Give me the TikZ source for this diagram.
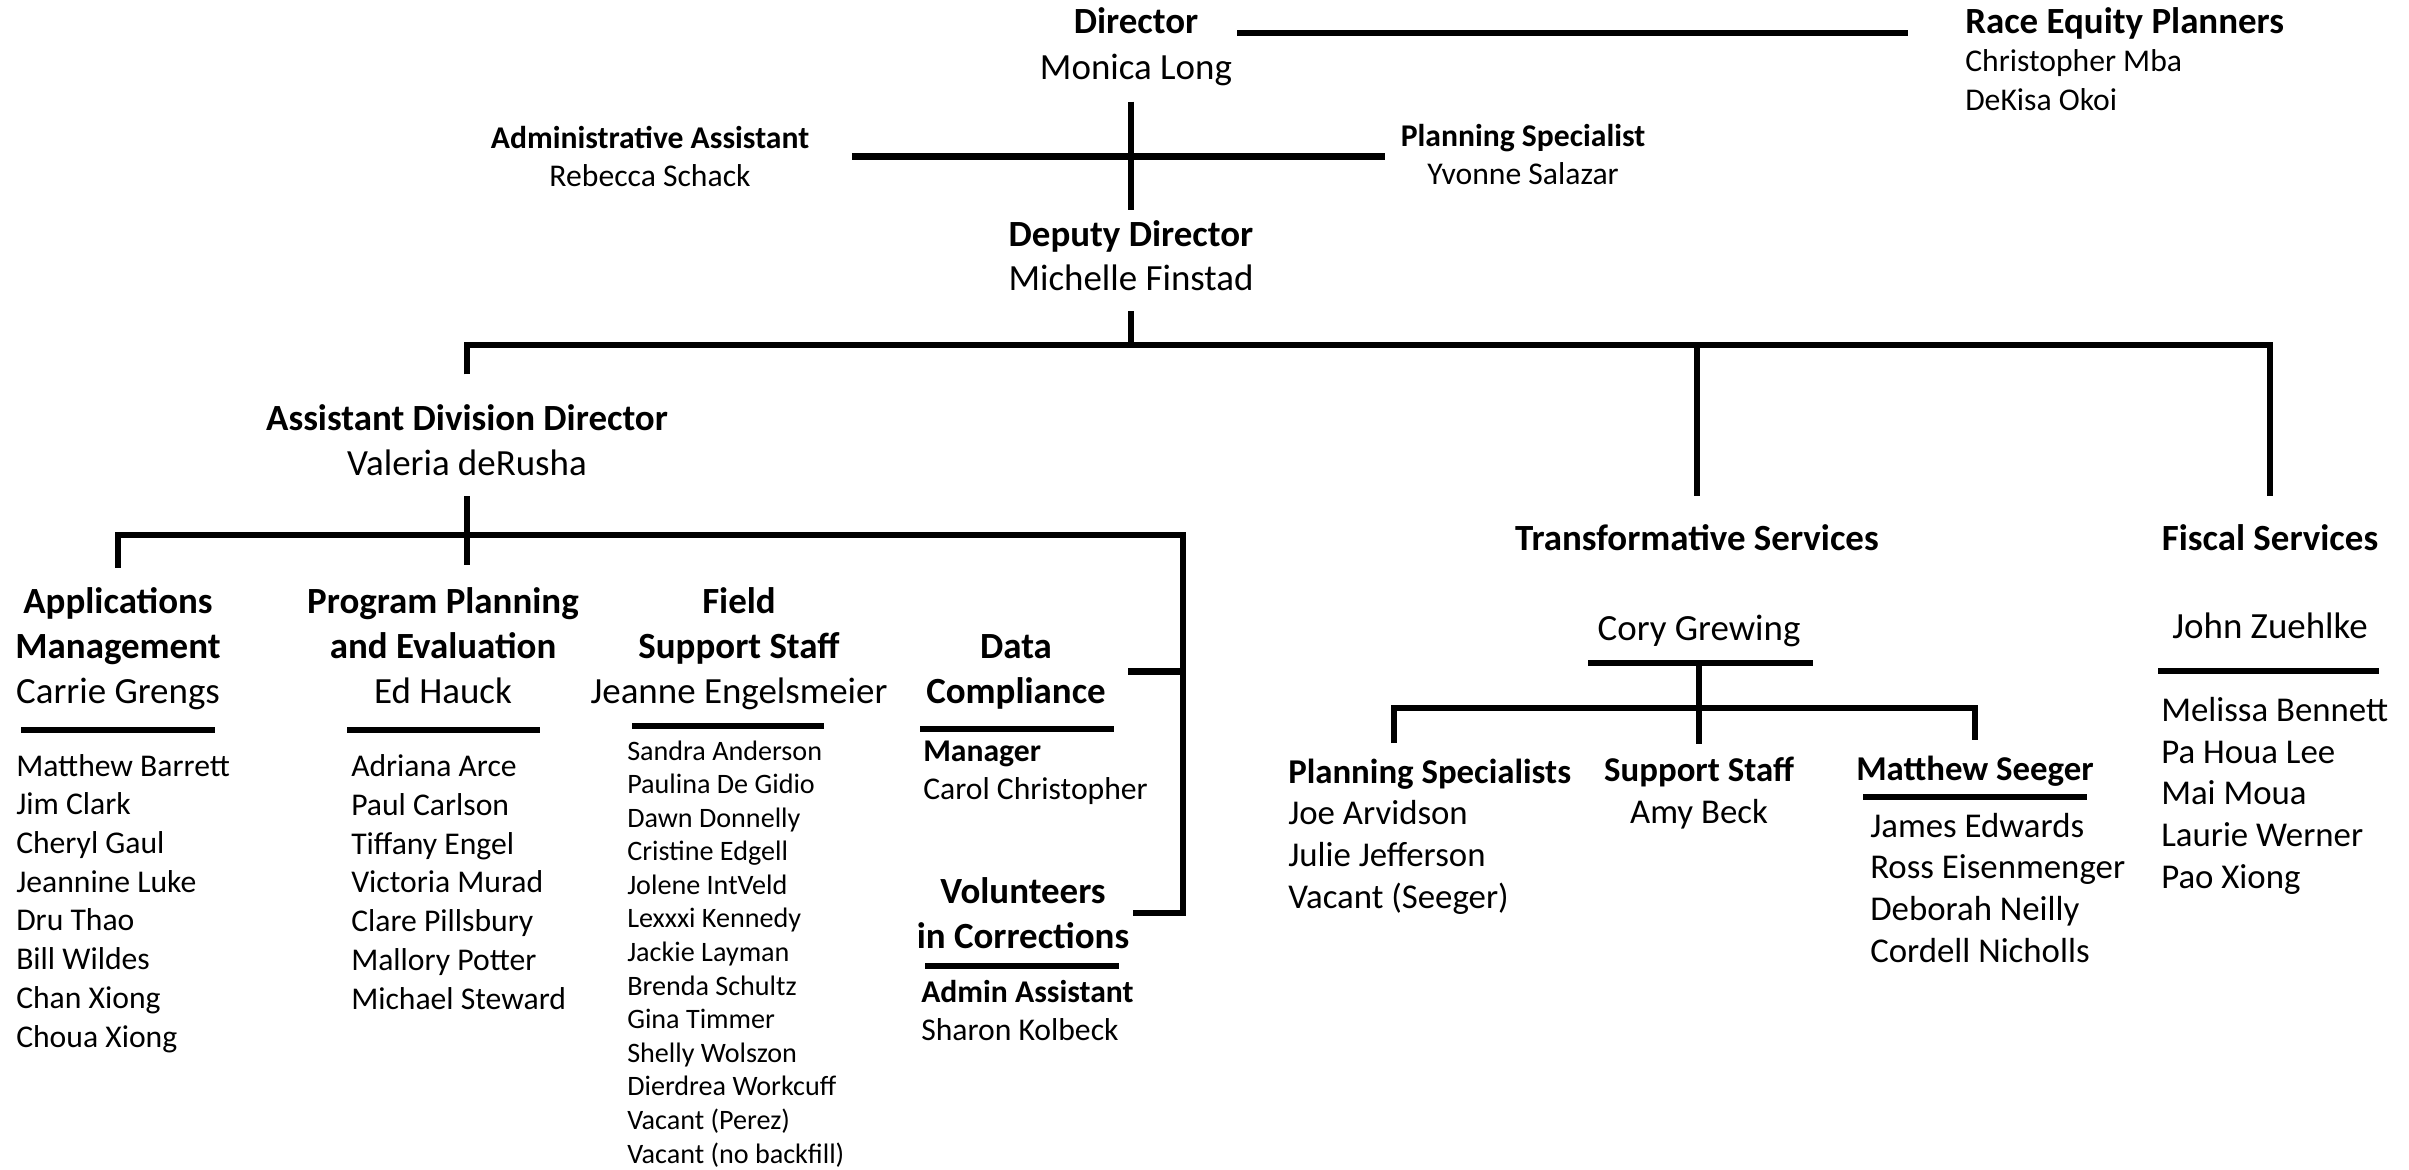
\documentclass[tikz,border=0pt]{standalone}
\usepackage{fontspec}
\setmainfont{Carlito}

\begin{document}
\begin{tikzpicture}
[x=0.01cm,y=-0.01cm,line width=1.85pt,
 hd/.style={inner sep=0pt,anchor=base,align=center,font=\fontsize{10.5}{12.66}\selectfont},
 hdb/.style={hd,font=\fontsize{10.5}{12.66}\selectfont\bfseries},
 sub/.style={inner sep=0pt,anchor=base,align=center,font=\fontsize{9}{10.6}\selectfont},
 lst/.style={inner sep=0pt,anchor=base west,align=left,font=\fontsize{9}{11}\selectfont},
 lstb/.style={lst,font=\fontsize{9}{10.7}\selectfont},
 sml/.style={lst,font=\fontsize{8}{9.55}\selectfont},
 rgt/.style={lst,font=\fontsize{9.9}{11.85}\selectfont},
 rgc/.style={rgt,anchor=base,align=center}]
\useasboundingbox (0,0) rectangle (2409,1169);

% top of the chart (multi-line nodes sit on their last line)
\node[hdb] (dirT) at (1136,33) {Director};
\node[hd] (dirN) at (1136,79) {Monica Long};
\node[hdb,anchor=base west] (reqT) at (1962,33) {Race Equity Planners};
\node[lst] (reqN) at (1962,110) {Christopher Mba\\DeKisa Okoi};
\node[sub] (adm) at (650,186) {\textbf{Administrative Assistant}\\Rebecca Schack};
\node[sub] (psp) at (1523,184) {\textbf{Planning Specialist}\\Yvonne Salazar};
\node[hdb] (depT) at (1131,246) {Deputy Director};
\node[hd] (depN) at (1131,290) {Michelle Finstad};

\draw[shorten <=10.2pt,shorten >=15.4pt] (dirT.base east) -- (dirT.base east -| reqT.west);
\draw[shorten <=3.7pt,shorten >=2pt] (depT.north |- dirN.south) -- (depT.north);
\draw[shorten <=11.2pt,shorten >=3.6pt] (adm.east) -- (adm.east -| psp.west);

% assistant division director and her units
\node[hd] (add) at (467,475) {\textbf{Assistant Division Director}\\Valeria deRusha};
\node[hd] (am) at (118,703) {\textbf{Applications}\\\textbf{Management}\\Carrie Grengs};
\node[hd] (ppe) at (443,703) {\textbf{Program Planning}\\\textbf{and Evaluation}\\Ed Hauck};
\node[hd] (fss) at (739,703) {\textbf{Field}\\\textbf{Support Staff}\\Jeanne Engelsmeier};
\node[hd] (dc) at (1016,703) {\textbf{Data}\\\textbf{Compliance}};
\node[hd] (vic) at (1023,948) {\textbf{Volunteers}\\\textbf{in Corrections}};

\node[lst] (amL) at (13,1047) {Matthew Barrett\\Jim Clark\\Cheryl Gaul\\Jeannine Luke\\Dru Thao\\Bill Wildes\\Chan Xiong\\Choua Xiong};
\node[lst] (ppeL) at (348,1009) {Adriana Arce\\Paul Carlson\\Tiffany Engel\\Victoria Murad\\Clare Pillsbury\\Mallory Potter\\Michael Steward};
\node[sml] (fssL) at (624,1163) {Sandra Anderson\\Paulina De Gidio\\Dawn Donnelly\\Cristine Edgell\\Jolene IntVeld\\Lexxxi Kennedy\\Jackie Layman\\Brenda Schultz\\Gina Timmer\\Shelly Wolszon\\Dierdrea Workcuff\\Vacant (Perez)\\Vacant (no backfill)};
\node[lstb] (dcL) at (920,799) {\textbf{Manager}\\Carol Christopher};
\node[lstb] (vicL) at (918,1040) {\textbf{Admin Assistant}\\Sharon Kolbeck};

% right hand units
\node[hdb] (tsT) at (1697,550) {Transformative Services};
\node[hd] (cgN) at (1699,640) {Cory Grewing};
\node[rgt] (pspL) at (1285,908) {\textbf{Planning Specialists}\\Joe Arvidson\\Julie Jefferson\\Vacant (Seeger)};
\node[rgc] (ss) at (1699,823) {\textbf{Support Staff}\\Amy Beck};
\node[rgc,font=\fontsize{9.9}{11.85}\selectfont\bfseries] (msT) at (1975,780) {Matthew Seeger};
\node[rgt] (msL) at (1867,962) {James Edwards\\Ross Eisenmenger\\Deborah Neilly\\Cordell Nicholls};
\node[hdb] (fsT) at (2270,550) {Fiscal Services};
\node[hd] (fsN) at (2270,638) {John Zuehlke};
\node[rgt] (fsL) at (2158,888) {Melissa Bennett\\Pa Houa Lee\\Mai Moua\\Laurie Werner\\Pao Xiong};

\coordinate (bar) at (1131,345);
\coordinate (rail) at (1183,535);
\coordinate (tbar) at (1699,708);
\coordinate (psTop) at (1394,743);

\draw[shorten <=5.1pt] (depN.south) -- (bar);
\draw[shorten <=7.7pt,shorten >=7.1pt] (add.north) |- (bar) -| (fsT.north);
\draw[shorten >=7.1pt] (bar -| tsT.north) -- (tsT.north);
\draw[shorten <=5.1pt,shorten >=5.7pt] (add.south) -- (add.south |- ppe.north);
\draw[shorten <=4.8pt] (am.north) |- (rail) |- (vic.east);
\draw[shorten >=5.3pt] (dc.east -| rail) -- (dc.east);
\draw[shorten >=2.6pt] (cgN.base) ++(0,23) -- (ss.north);
\draw[shorten >=3.4pt] (psTop) |- (tbar) -| (msT.north);

% underlines
\draw (am.base) ++(-97,27) -- ++(194,0);
\draw (ppe.base) ++(-96,27) -- ++(193,0);
\draw (fss.base) ++(-107,23) -- ++(192,0);
\draw (dc.base) ++(-96,26) -- ++(194,0);
\draw (vic.base) ++(-98,18) -- ++(194,0);
\draw (cgN.base) ++(-111,23) -- ++(225,0);
\draw (msT.base) ++(-112,17) -- ++(224,0);
\draw (fsN.base) ++(-112,33) -- ++(221,0);
\end{tikzpicture}
\end{document}
